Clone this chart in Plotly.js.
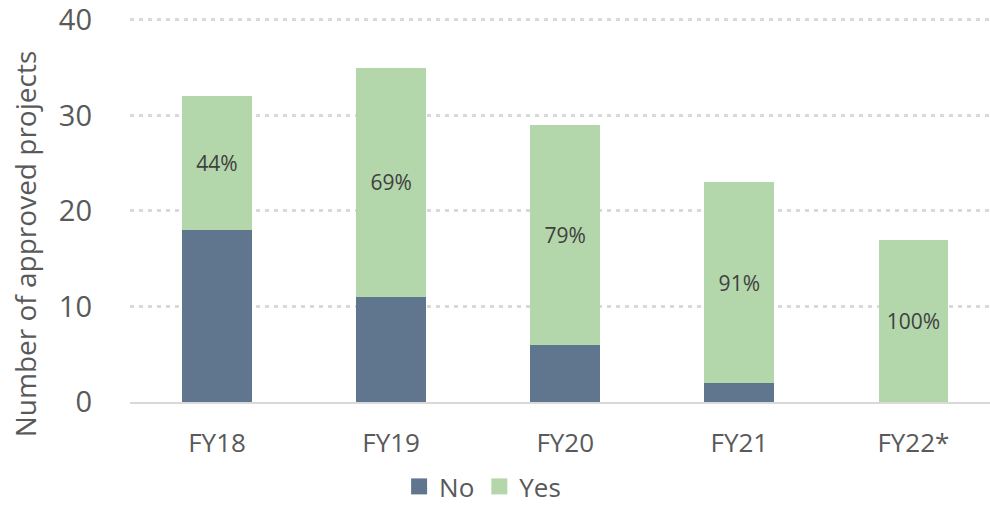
<!DOCTYPE html>
<html>
<head>
<meta charset="utf-8">
<script src="https://cdn.plot.ly/plotly-3.0.1.min.js"></script>
<style>html,body{margin:0;padding:0;background:#fff;overflow:hidden}</style>
</head>
<body>
<div id="chart" style="width:990px;height:510px"></div>
<script>
const categories = ["FY18", "FY19", "FY20", "FY21", "FY22*"];
const noValues = [18, 11, 6, 2, 0];
const yesValues = [14, 24, 23, 21, 17];
const yesLabels = ["44%", "69%", "79%", "91%", "100%"];
const yTickVals = [0, 10, 20, 30, 40];

const FONT = "Open Sans, sans-serif";
const NO_COLOR = "#60768f";
const YES_COLOR = "#b3d6ab";

const traces = [
  {
    type: "bar", name: "No", x: categories, y: noValues,
    marker: {color: NO_COLOR},
    width: 0.4, showlegend: false
  },
  {
    type: "bar", name: "Yes", x: categories, y: yesValues,
    marker: {color: YES_COLOR},
    width: 0.4, showlegend: false,
    text: yesLabels, textposition: "inside", insidetextanchor: "middle",
    textangle: 0,
    textfont: {family: FONT, size: 21, color: "#404040"}
  },
  {
    type: "scatter", mode: "markers", name: "No", x: [null], y: [null],
    marker: {symbol: "square", size: 22, color: NO_COLOR}
  },
  {
    type: "scatter", mode: "markers", name: "Yes", x: [null], y: [null],
    marker: {symbol: "square", size: 22, color: YES_COLOR}
  }
];

const layout = {
  width: 990, height: 510,
  margin: {l: 130, r: 0, t: 17, b: 108},
  barmode: "stack",
  paper_bgcolor: "#ffffff", plot_bgcolor: "#ffffff",
  font: {family: FONT, color: "#595959"},
  xaxis: {
    type: "category",
    range: [-0.5, 4.44],
    showgrid: false, zeroline: false,
    showline: true, linecolor: "#d9d9d9", linewidth: 2,
    ticks: "", ticklabelstandoff: 17,
    tickfont: {family: FONT, size: 26, color: "#595959"}
  },
  yaxis: {
    range: [0, 40.3], tickvals: yTickVals,
    showgrid: true, gridcolor: "#d9d9d9", gridwidth: 3, griddash: "4px,5px",
    zeroline: false, showline: false,
    ticks: "", ticklabelstandoff: 37, ticklabeloverflow: "allow",
    tickfont: {family: FONT, size: 29, color: "#595959"}
  },
  showlegend: true,
  legend: {
    orientation: "h", x: 0.41, xanchor: "center",
    yref: "container", y: 0, yanchor: "bottom",
    font: {family: FONT, size: 26, color: "#595959"},
    itemsizing: "trace", itemwidth: 30, traceorder: "normal",
    tracegroupgap: 0
  },
  annotations: [
    {
      text: "Number of approved projects", textangle: -90,
      xref: "paper", yref: "paper", x: -0.122, y: 0.41,
      xanchor: "center", yanchor: "middle", showarrow: false,
      font: {family: FONT, size: 28, color: "#595959"}
    }
  ]
};

Plotly.newPlot("chart", traces, layout, {displayModeBar: false, staticPlot: true});
</script>
</body>
</html>
